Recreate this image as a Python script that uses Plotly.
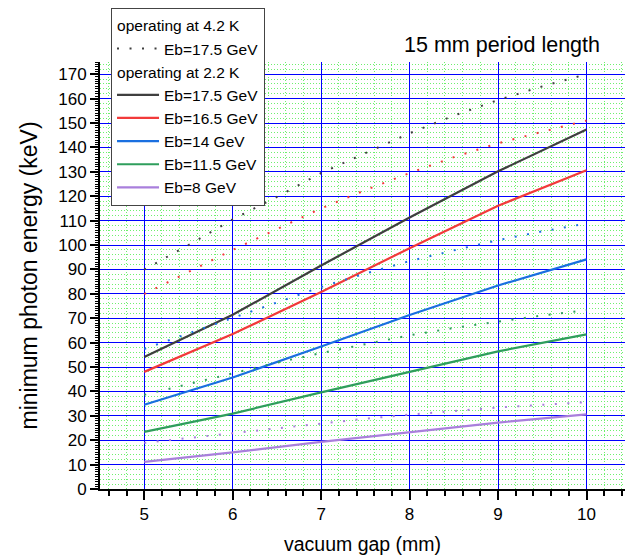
import plotly.graph_objects as go

# ---- data ----
gap_int = [5, 6, 7, 8, 9, 10]
e22_175 = [54.1, 71.4, 91.6, 111.3, 130.2, 147.3]
e22_165 = [48.0, 63.5, 80.7, 98.7, 116.1, 130.6]
e22_140 = [34.5, 45.7, 58.4, 71.3, 83.4, 94.1]
e22_115 = [23.4, 30.9, 39.6, 48.0, 56.4, 63.4]
e22_080 = [11.1, 15.0, 19.3, 23.4, 27.2, 30.6]

gap_half = [5, 5.5, 6, 6.5, 7, 7.5, 8, 8.5, 9, 9.5, 10]
e42_175 = [89.9, 100.0, 110.5, 119.7, 129.5, 137.8, 145.8, 153.0, 159.4, 165.0, 170.0]
e42_165 = [79.9, 89.0, 98.0, 106.5, 115.0, 122.5, 129.5, 136.0, 141.7, 146.4, 151.0]
e42_140 = [57.4, 63.8, 70.3, 76.7, 82.8, 88.3, 93.4, 97.8, 102.0, 105.6, 108.8]
e42_115 = [38.6, 43.0, 47.6, 51.8, 55.7, 59.4, 63.0, 66.0, 68.6, 71.1, 73.3]
e42_080 = [18.9, 20.9, 23.1, 25.1, 27.0, 28.8, 30.5, 32.0, 33.4, 34.5, 35.6]

names = ["Eb=17.5 GeV", "Eb=16.5 GeV", "Eb=14 GeV", "Eb=11.5 GeV", "Eb=8 GeV"]
colors = ["#3f3f3f", "#f23a3a", "#1a6fe0", "#2f9e5c", "#a97fdc"]
solid = [e22_175, e22_165, e22_140, e22_115, e22_080]
dotted = [e42_175, e42_165, e42_140, e42_115, e42_080]

FONT = "Liberation Sans, Arial, sans-serif"

# minor grid positions (skip the ones under major lines)
x_minor = [k / 5 for k in range(23, 53) if k % 5 != 0]
y_minor = [k for k in range(0, 176, 2) if k % 10 != 0]

fig = go.Figure()

for i, (nm, c, ys) in enumerate(zip(names, colors, dotted)):
    fig.add_trace(go.Scatter(
        x=gap_half, y=ys, mode="lines", name=nm,
        line=dict(color=c, width=2, dash="2px,10.5px"),
        legendgroup="g42", showlegend=(i == 0),
        legendgrouptitle=dict(text="operating at 4.2 K") if i == 0 else None,
        yaxis="y2", hoverinfo="skip"))

for i, (nm, c, ys) in enumerate(zip(names, colors, solid)):
    fig.add_trace(go.Scatter(
        x=gap_int, y=ys, mode="lines", name=nm,
        line=dict(color=c, width=2.2),
        legendgroup="g22",
        legendgrouptitle=dict(text="operating at 2.2 K") if i == 0 else None))

fig.update_layout(
    width=625, height=558,
    margin=dict(l=100, r=0, t=62, b=69),
    paper_bgcolor="white", plot_bgcolor="white",
    font=dict(family=FONT, size=17, color="black"),
    showlegend=True,
    legend=dict(
        x=0.021, y=1.127, xanchor="left", yanchor="top",
        bgcolor="white", bordercolor="#444", borderwidth=1,
        font=dict(family=FONT, size=15.5, color="black"),
        grouptitlefont=dict(family=FONT, size=15.5, color="black"),
        tracegroupgap=0, traceorder="grouped", itemwidth=42,
    ),
    xaxis=dict(
        range=[4.5, 10.435], dtick=1, tick0=0,
        showline=True, linecolor="black", linewidth=2,
        ticks="outside", ticklen=9, tickwidth=1.5, tickcolor="black",
        showgrid=True, gridcolor="#0000ff", gridwidth=1,
        zeroline=False,
        minor=dict(tickmode="array", tickvals=x_minor, ticks="outside", ticklen=5,
                   tickwidth=1.5, tickcolor="black", showgrid=True,
                   gridcolor="#6ef06e", gridwidth=1, griddash="1px,2px"),
        title=dict(text="vacuum gap (mm)", font=dict(size=19.5), standoff=14),
        tickfont=dict(size=17),
    ),
    yaxis=dict(
        range=[0, 175], dtick=10, tick0=0,
        showline=True, linecolor="black", linewidth=2,
        ticks="outside", ticklen=8, tickwidth=1.5, tickcolor="black",
        showgrid=True, gridcolor="#0000ff", gridwidth=1,
        zeroline=False,
        minor=dict(tickmode="array", tickvals=y_minor, ticks="", showgrid=True,
                   gridcolor="#6ef06e", gridwidth=1, griddash="1px,2px"),
        title=dict(text="minimum photon energy (keV)", font=dict(size=23), standoff=14),
        tickfont=dict(size=17),
    ),
    yaxis2=dict(
        range=[0, 175], overlaying="y", side="left", anchor="x",
        showgrid=False, zeroline=False, showticklabels=False,
        ticks="outside", ticklen=8, tickwidth=1.5, tickcolor="black", dtick=10,
        minor=dict(dtick=1, tick0=0, ticks="outside", ticklen=4, tickwidth=1.2,
                   tickcolor="black", showgrid=False),
    ),
    annotations=[dict(
        text="15 mm period length", xref="paper", yref="paper",
        x=0.766, y=1.04, xanchor="center", yanchor="middle", showarrow=False,
        font=dict(family=FONT, size=21.5, color="black"))],
)

fig.write_html("out.html")
